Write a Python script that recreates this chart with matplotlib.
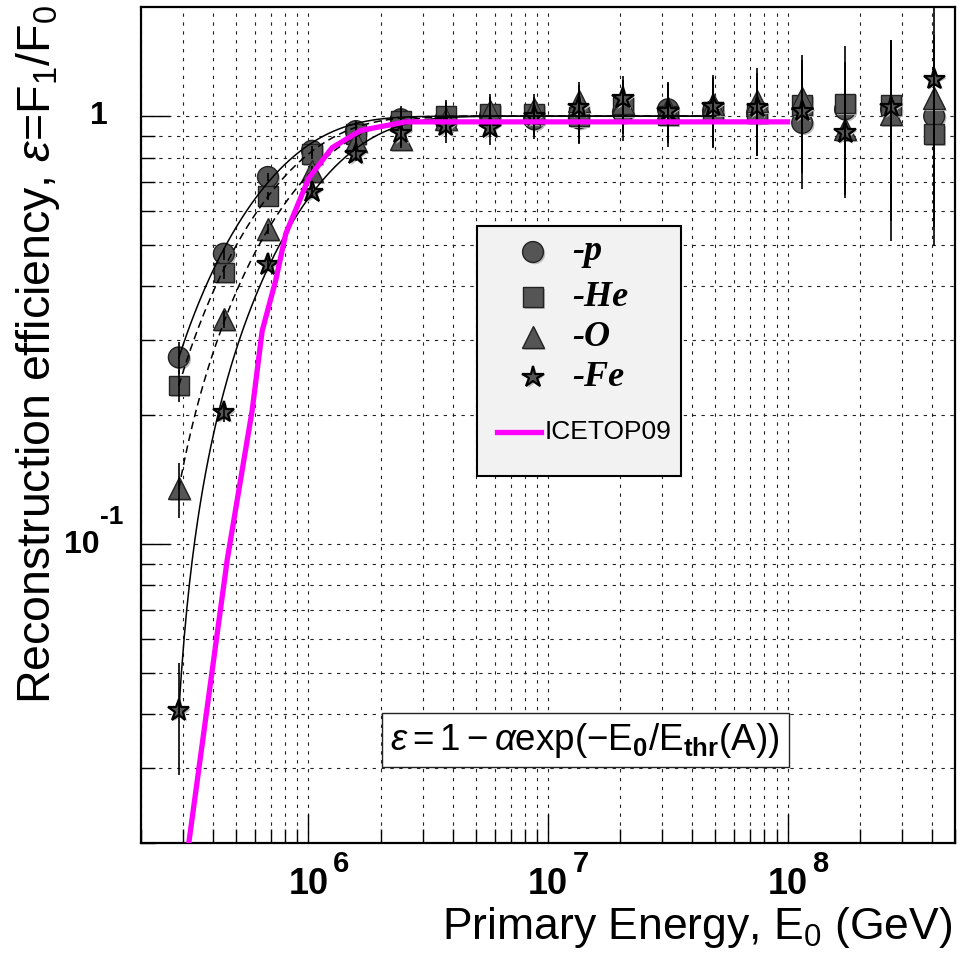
import numpy as np
import matplotlib
matplotlib.use("Agg")
import matplotlib.pyplot as plt
from matplotlib.ticker import LogLocator, NullFormatter, FixedLocator
from matplotlib.patches import Rectangle
from matplotlib.lines import Line2D
import matplotlib.transforms as mtransforms
import matplotlib.patheffects as pe

plt.rcParams['font.family'] = ['Liberation Sans', 'DejaVu Sans']
plt.rcParams['mathtext.fontset'] = 'custom'
plt.rcParams['mathtext.rm'] = 'Liberation Sans'
plt.rcParams['mathtext.it'] = 'Liberation Sans:italic'
plt.rcParams['mathtext.bf'] = 'Liberation Sans:bold'

# ---- data -----------------------------------------------------------------
# primary energy bin centres (GeV)
energy = [2.877e5, 4.436e5, 6.776e5, 1.035e6, 1.578e6, 2.432e6, 3.75e6, 5.728e6,
          8.75e6, 1.346e7, 2.056e7, 3.17e7, 4.887e7, 7.464e7, 1.151e8, 1.738e8,
          2.704e8, 4.093e8]

eff_p = [0.273, 0.477, 0.721, 0.830, 0.923, 0.984, 0.989, 1.000, 0.984, 0.989,
         1.020, 1.038, 1.027, 1.016, 0.965, 1.038, 1.038, 1.000]
eff_he = [0.235, 0.431, 0.651, 0.815, 0.908, 0.974, 1.000, 1.011, 1.011, 0.997,
          1.055, 1.005, 1.022, 1.016, 1.061, 1.072, 1.061, 0.908]
eff_o = [0.135, 0.335, 0.545, 0.744, 0.874, 0.884, 0.984, 1.027, 1.038, 1.084,
         1.072, 1.044, 1.066, 1.084, 1.101, 0.933, 1.011, 1.101]
eff_fe = [0.0408, 0.203, 0.450, 0.665, 0.815, 0.913, 0.948, 0.938, 1.000, 1.050,
          1.101, 1.027, 1.055, 1.050, 1.027, 0.914, 1.050, 1.220]

err_p = [0.023, 0.015, 0.015, 0.02, 0.05, 0.07, 0.09, 0.10, 0.10, 0.13,
         0.145, 0.16, 0.18, 0.21, 0.29, 0.30, 0.47, 0.45]
err_he = [0.020, 0.015, 0.015, 0.02, 0.05, 0.06, 0.09, 0.10, 0.10, 0.13,
          0.145, 0.16, 0.18, 0.21, 0.29, 0.39, 0.42, 0.41]
err_o = [0.020, 0.015, 0.015, 0.02, 0.05, 0.04, 0.08, 0.10, 0.09, 0.12,
         0.145, 0.16, 0.18, 0.21, 0.29, 0.28, 0.50, 0.45]
err_fe = [0.012, 0.010, 0.015, 0.02, 0.03, 0.06, 0.08, 0.08, 0.10, 0.13,
          0.14, 0.16, 0.18, 0.21, 0.29, 0.27, 0.40, 0.65]

# fit parameters of eps = 1 - alpha*exp(-E0/Ethr(A))
fit_alpha = [1.399, 1.361, 1.387, 1.431]
fit_ethr = [4.4e5, 5.0e5, 6.1e5, 7.2e5]
fit_emin = 2.877e5
fit_emax = 5.0e7

# ICETOP09 efficiency curve
ice_energy = [3.02e5, 3.17e5, 4.58e5, 5.82e5, 6.41e5, 7.29e5, 8.04e5, 1.005e6,
              1.256e6, 1.652e6, 2.547e6, 1.0e8]
ice_eff = [0.0165, 0.0201, 0.0918, 0.205, 0.315, 0.412, 0.531, 0.718,
           0.844, 0.926, 0.970, 0.970]

series_labels = ['-p', '-He', '-O', '-Fe']
xtick_vals = [1e6, 1e7, 1e8]
xtick_exps = ['6', '7', '8']

# ---- figure ---------------------------------------------------------------
W, H = 961, 957
fig = plt.figure(figsize=(W / 100, H / 100), dpi=100)
ax_l, ax_r, ax_t, ax_b = 141, 955, 7, 843
ax = fig.add_axes([ax_l / W, (H - ax_b) / H, (ax_r - ax_l) / W, (ax_b - ax_t) / H])
ax.set_xscale('log')
ax.set_yscale('log')
ax.set_xlim(2e5, 5e8)
ax.set_ylim(0.02, 1.8)

for s in ax.spines.values():
    s.set_linewidth(1.6)
    s.set_color('black')

ax.xaxis.set_major_locator(FixedLocator(xtick_vals))
ax.xaxis.set_minor_locator(LogLocator(base=10, subs=np.arange(2, 10), numticks=100))
ax.yaxis.set_major_locator(FixedLocator([0.1, 1.0]))
ax.yaxis.set_minor_locator(LogLocator(base=10, subs=np.arange(2, 10), numticks=100))
ax.xaxis.set_major_formatter(NullFormatter())
ax.xaxis.set_minor_formatter(NullFormatter())
ax.yaxis.set_major_formatter(NullFormatter())
ax.yaxis.set_minor_formatter(NullFormatter())
ax.tick_params(which='major', direction='in', length=21, width=1.0,
               top=False, right=False)
ax.tick_params(which='minor', direction='in', length=10, width=1.0,
               top=False, right=False)
ax.grid(which='both', color='#222222', linestyle=(0, (3, 5)), linewidth=0.8)
ax.set_axisbelow(True)

# ---- data points ------------------------------------------------------------
fill = '#555555'
marker_specs = [
    dict(marker='o', ms=15),
    dict(marker='s', ms=14),
    dict(marker='^', ms=16),
    dict(marker='*', ms=16),
]
shadow = [pe.SimplePatchShadow(offset=(1.3, -1.3), shadow_rgbFace='#bbbbbb', alpha=1.0),
          pe.Normal()]
all_eff = [eff_p, eff_he, eff_o, eff_fe]
all_err = [err_p, err_he, err_o, err_fe]
for eff, spec in zip(all_eff, marker_specs):
    star = spec['marker'] == '*'
    ln, = ax.plot(energy, eff, linestyle='none', marker=spec['marker'], ms=spec['ms'],
                  mfc=fill, mec='black' if star else '#222222',
                  mew=1.6 if star else 1.0, zorder=3)
    ln.set_path_effects(shadow)
for eff, err in zip(all_eff, all_err):
    ax.errorbar(energy, eff, yerr=err, fmt='none', ecolor='black', elinewidth=1.2,
                capsize=0, zorder=4)

# ---- fit curves ---------------------------------------------------------------
efit = np.logspace(np.log10(fit_emin), np.log10(fit_emax), 400)
fit_styles = ['-', (0, (5, 3)), (0, (5, 3)), '-']
for a, eth, ls in zip(fit_alpha, fit_ethr, fit_styles):
    ax.plot(efit, 1 - a * np.exp(-efit / eth), color='black', lw=1.1, ls=ls, zorder=5)

ax.plot(ice_energy, ice_eff, color='#ff00ff', lw=3.8, zorder=6, solid_joinstyle='miter')

# ---- tick labels -----------------------------------------------------------
def off(trans, dx, dy):
    return mtransforms.offset_copy(trans, fig=fig, x=dx, y=dy, units='dots')

xt = ax.get_xaxis_transform()
for v, e in zip(xtick_vals, xtick_exps):
    ax.text(v, 0, '10', transform=off(xt, 0, -42), ha='center', va='center',
            fontsize=26, fontweight='bold', clip_on=False)
    ax.text(v, 0, e, transform=off(xt, 33, -21), ha='center', va='center',
            fontsize=21, fontweight='bold', clip_on=False)

yt = ax.get_yaxis_transform()
ax.text(0, 1.0, '1', transform=off(yt, -42, 0), ha='center', va='center',
        fontsize=23, fontweight='bold', clip_on=False)
ax.text(0, 0.1, '10', transform=off(yt, -59, -1), ha='center', va='center',
        fontsize=23, fontweight='bold', clip_on=False)
ax.text(0, 0.1, '-1', transform=off(yt, -29, 27), ha='center', va='center',
        fontsize=19, fontweight='bold', clip_on=False)

# ---- axis titles -----------------------------------------------------------
fig.text(952 / W, 1 - 928 / H, 'Primary Energy, E$_{0}$ (GeV)', ha='right',
         va='center', fontsize=32)
fig.text(38 / W, 1 - 5 / H, r'Reconstruction efficiency, $\varepsilon$=F$_{1}$/F$_{0}$',
         rotation=90, ha='center', va='top', fontsize=33.5)

# ---- legend ----------------------------------------------------------------
def ax_xy(px, py):
    return (px - ax_l) / (ax_r - ax_l), (ax_b - py) / (ax_b - ax_t)

lx0, ly0 = ax_xy(477, 476)
lx1, ly1 = ax_xy(681, 226)
ax.add_patch(Rectangle((lx0, ly0), lx1 - lx0, ly1 - ly0, transform=ax.transAxes,
                       facecolor='#f2f2f2', edgecolor='black', lw=1.5, zorder=7))
rows = [252, 297, 337, 377]
for lab, spec, ry in zip(series_labels, marker_specs, rows):
    mx, my = ax_xy(533, ry)
    star = spec['marker'] == '*'
    m = Line2D([mx], [my], transform=ax.transAxes, linestyle='none',
               marker=spec['marker'], ms=spec['ms'], mfc=fill,
               mec='black' if star else '#222222', mew=1.6 if star else 1.0, zorder=8)
    m.set_path_effects(shadow)
    ax.add_line(m)
    tx, ty = ax_xy(572, ry)
    ax.text(tx, ty, lab, transform=ax.transAxes, ha='left', va='center',
            fontsize=26, fontweight='bold', fontstyle='italic',
            family=['Liberation Serif', 'DejaVu Serif'], zorder=8)
lxa, lya = ax_xy(497, 432)
lxb, _ = ax_xy(541, 432)
ax.add_line(Line2D([lxa, lxb], [lya, lya], transform=ax.transAxes, color='#ff00ff',
                   lw=3.8, zorder=8))
tx, ty = ax_xy(545, 432)
ax.text(tx, ty, 'ICETOP09', transform=ax.transAxes, ha='left', va='center',
        fontsize=19, zorder=8)

# ---- formula box -------------------------------------------------------------
fx0, fy0 = ax_xy(382, 767)
fx1, fy1 = ax_xy(789, 713)
ax.add_patch(Rectangle((fx0, fy0), fx1 - fx0, fy1 - fy0, transform=ax.transAxes,
                       facecolor='white', edgecolor='#222222', lw=1.0, zorder=7))
cx, cy = ax_xy(585, 741)
ax.text(cx, cy, r'$\varepsilon = 1 - \alpha \mathrm{exp}(-\mathrm{E}_{\mathbf{0}}/\mathrm{E}_{\mathbf{thr}}(\mathrm{A}))$',
        transform=ax.transAxes, ha='center', va='center', fontsize=26.5, zorder=8)

fig.savefig('out.png', dpi=100)
